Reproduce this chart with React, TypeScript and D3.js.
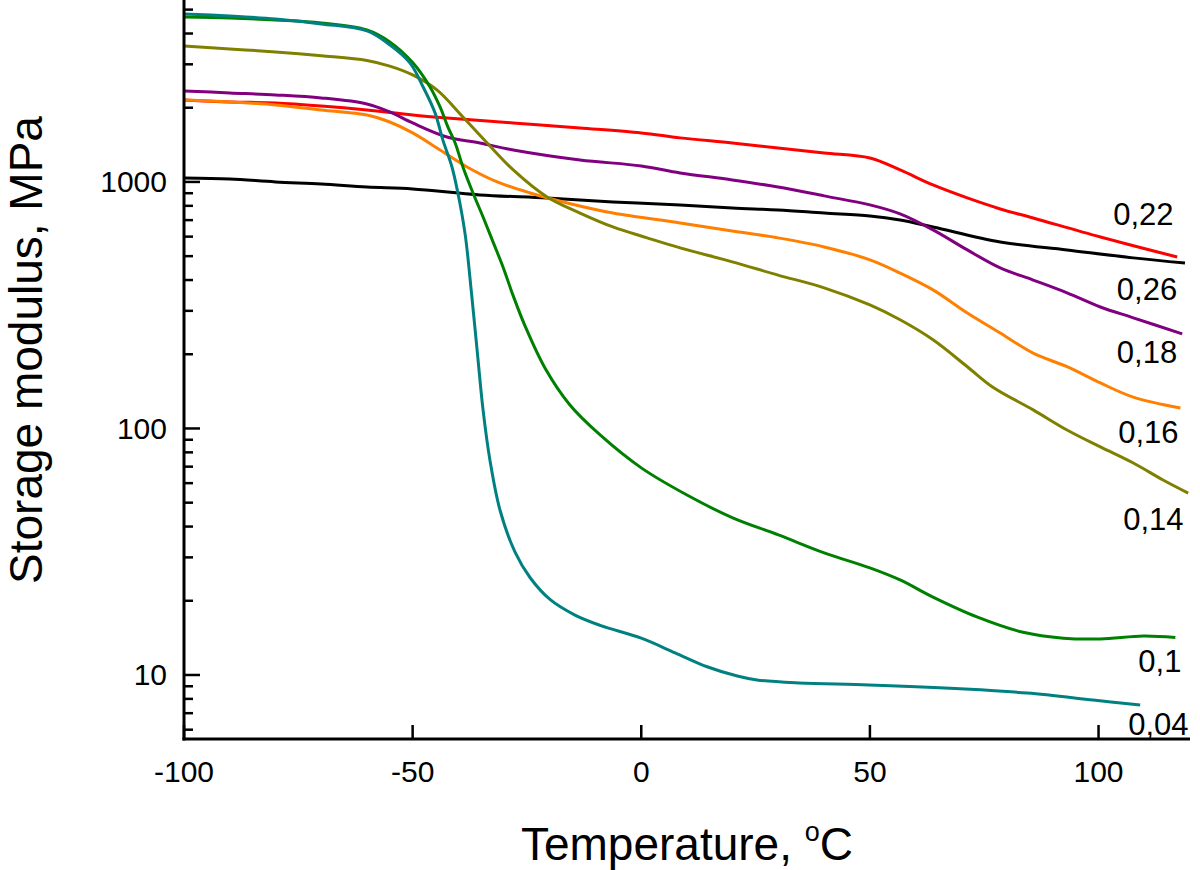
import React, { useEffect, useRef } from 'react';
import * as d3 from 'd3';

// Temperature (°C) and storage modulus (MPa)
const tempRed = [-100, -90, -80, -70, -60, -50, -42.5, -28, -13.4, 0, 8.5, 19.9, 29.9, 40, 50, 56.6, 63.8, 71.3, 78.5, 85.7, 100.4, 117.2];
const modRed = [2151, 2111, 2092, 2034, 1959, 1870, 1818, 1735, 1656, 1581, 1509, 1439, 1374, 1311, 1251, 1119, 972, 861, 777, 714, 598, 496];

const tempBlack = [-100, -90, -80, -70, -60, -50, -35.3, -20.6, -6.2, 8.5, 19.9, 29.9, 40, 50, 56.6, 63.8, 78.5, 93.1, 107.6, 118.9];
const modBlack = [1038, 1028, 1000, 981, 954, 937, 886, 861, 830, 807, 784, 770, 748, 728, 701, 657, 571, 530, 492, 469];

const tempPurple = [-100, -90, -80, -70, -60, -55, -50, -42.5, -35.3, -28, -13.4, 0, 8.5, 19.9, 29.9, 40, 50, 56.6, 63.8, 71.3, 78.5, 85.7, 93.1, 100.4, 107.6, 118.3];
const modPurple = [2340, 2296, 2254, 2192, 2072, 1923, 1735, 1522, 1439, 1348, 1228, 1161, 1088, 1019, 954, 878, 807, 742, 639, 530, 448, 400, 355, 311, 281, 242];

const tempOrange = [-100, -90, -80, -70, -60, -55, -50, -44, -38.1, -31.5, -24.3, -16.2, -6.2, 8.5, 19.9, 29.9, 40, 50, 56.6, 63.8, 71.3, 78.5, 85.7, 93.1, 100.4, 107.6, 117.9];
const modOrange = [2151, 2111, 2053, 1959, 1870, 1750, 1581, 1348, 1150, 1000, 902, 822, 748, 682, 633, 593, 545, 483, 427, 365, 294, 244, 202, 178, 153, 134, 121];

const tempOlive = [-100, -90, -80, -70, -60, -55, -50, -44.7, -39, -33.7, -28, -20.6, -13.4, -6.2, 1.3, 8.5, 19.9, 29.9, 40, 50, 56.6, 63.8, 71.3, 76.9, 85.7, 93.1, 100.4, 107.6, 114.1, 119.6];
const modOlive = [3562, 3464, 3368, 3250, 3110, 2950, 2717, 2362, 1835, 1439, 1119, 869, 748, 657, 593, 540, 474, 419, 372, 317, 276, 229, 178, 147, 119, 98.6, 84.2, 72.4, 61.8, 54.7];

const tempGreen = [-100, -90, -80, -70, -60, -55, -50, -46.2, -44, -42.3, -40.7, -39, -36.8, -34.6, -32.4, -30.2, -28, -25.4, -21, -15.6, -9, 0, 10, 20, 30, 40, 50, 56.6, 63.8, 73.4, 83.5, 92.3, 100.4, 109.8, 116.8];
const modGreen = [4669, 4627, 4540, 4416, 4137, 3700, 3050, 2429, 2015, 1672, 1439, 1150, 902, 721, 570, 450, 345, 260, 175, 124.5, 94.1, 69.2, 53.7, 43.4, 37.0, 31.3, 27.2, 24.3, 20.7, 17.2, 14.9, 14.1, 14.0, 14.4, 14.2];

const tempTeal = [-100, -90, -80, -70, -60, -55, -50.6, -47.7, -45.1, -43.4, -41.4, -40.1, -38.5, -37.2, -35.9, -34.6, -33.1, -30.9, -27.6, -24.3, -19.9, -14.5, -9, 0, 7.4, 14.4, 21, 25.3, 34.5, 49.8, 70.8, 84.4, 98.8, 109.1];
const modTeal = [4803, 4710, 4583, 4375, 4099, 3600, 3040, 2427, 1906, 1481, 1150, 902, 610, 365, 208, 119, 74.5, 46.7, 31.5, 24.8, 20.2, 17.5, 15.9, 14.1, 12.3, 10.8, 9.9, 9.54, 9.28, 9.11, 8.77, 8.45, 7.92, 7.55];

const seriesLabels = ['0,22', '0,26', '0,18', '0,16', '0,14', '0,1', '0,04'];
const seriesColors = ['#ff0000', '#000000', '#800080', '#ff8000', '#808000', '#008000', '#008080'];
const seriesTemps = [tempRed, tempBlack, tempPurple, tempOrange, tempOlive, tempGreen, tempTeal];
const seriesMods = [modRed, modBlack, modPurple, modOrange, modOlive, modGreen, modTeal];

// where each curve label sits (temperature, modulus of text baseline)
const labelTemps = [103.2, 104, 104, 104.3, 105.4, 108.7, 106.5];
const labelMods = [669, 332, 184, 87.3, 38.7, 10.3, 5.71];

const xTicks = [-100, -50, 0, 50, 100];
const yMajorTicks = [10, 100, 1000];

export default function App() {
  const svgRef = useRef<SVGSVGElement>(null);
  const width = 1200;
  const height = 870;

  useEffect(() => {
    if (!svgRef.current) return;
    const svg = d3.select(svgRef.current);
    svg.selectAll('*').remove();

    const font = '"Liberation Sans", Arial, Helvetica, sans-serif';
    const left = 184, right = 1190, top = 0, bottom = 739;

    const x = d3.scaleLinear().domain([-100, 120]).range([left, right]);
    const y = d3.scaleLog().domain([5.5, 5470]).range([bottom, top]);

    const line = d3.line<[number, number]>()
      .x(d => x(d[0]))
      .y(d => y(d[1]))
      .curve(d3.curveCatmullRom.alpha(0.5));

    // curves
    seriesTemps.forEach((temps, i) => {
      const pts = temps.map((t, j) => [t, seriesMods[i][j]] as [number, number]);
      svg.append('path')
        .datum(pts)
        .attr('d', line)
        .attr('fill', 'none')
        .attr('stroke', seriesColors[i])
        .attr('stroke-width', 3)
        .attr('stroke-linejoin', 'round');
    });

    // axes lines
    svg.append('line')
      .attr('x1', left).attr('x2', left)
      .attr('y1', top).attr('y2', bottom + 1.5)
      .attr('stroke', '#000').attr('stroke-width', 3);
    svg.append('line')
      .attr('x1', left - 1.5).attr('x2', right)
      .attr('y1', bottom).attr('y2', bottom)
      .attr('stroke', '#000').attr('stroke-width', 3);

    // y ticks, inward
    const minorTicks: number[] = [];
    [1, 10, 100, 1000].forEach(dec => {
      for (let k = 2; k <= 9; k++) {
        const v = k * dec;
        if (v >= 5.5 && v <= 5470) minorTicks.push(v);
      }
    });
    svg.selectAll('.ymin')
      .data(minorTicks)
      .enter()
      .append('line')
      .attr('x1', left).attr('x2', left + 9)
      .attr('y1', d => y(d)).attr('y2', d => y(d))
      .attr('stroke', '#000').attr('stroke-width', 2.5);
    svg.selectAll('.ymaj')
      .data(yMajorTicks)
      .enter()
      .append('line')
      .attr('x1', left).attr('x2', left + 16)
      .attr('y1', d => y(d)).attr('y2', d => y(d))
      .attr('stroke', '#000').attr('stroke-width', 2.5);
    svg.selectAll('.ylab')
      .data(yMajorTicks)
      .enter()
      .append('text')
      .attr('x', left - 17)
      .attr('y', d => y(d) + 10.5)
      .attr('text-anchor', 'end')
      .attr('font-family', font)
      .attr('font-size', 30)
      .text(d => String(d));

    // x ticks, inward
    svg.selectAll('.xt')
      .data(xTicks)
      .enter()
      .append('line')
      .attr('x1', d => x(d)).attr('x2', d => x(d))
      .attr('y1', bottom).attr('y2', bottom - 14)
      .attr('stroke', '#000').attr('stroke-width', 2.5);
    svg.selectAll('.xlab')
      .data(xTicks)
      .enter()
      .append('text')
      .attr('x', d => x(d))
      .attr('y', 782)
      .attr('text-anchor', 'middle')
      .attr('font-family', font)
      .attr('font-size', 30)
      .text(d => String(d));

    // curve labels
    seriesLabels.forEach((lab, i) => {
      svg.append('text')
        .attr('x', x(labelTemps[i]))
        .attr('y', y(labelMods[i]))
        .attr('font-family', font)
        .attr('font-size', 31)
        .text(lab);
    });

    // axis titles
    svg.append('text')
      .attr('transform', 'translate(42,350) rotate(-90)')
      .attr('text-anchor', 'middle')
      .attr('font-family', font)
      .attr('font-size', 46)
      .text('Storage modulus, MPa');

    const xt = svg.append('text')
      .attr('x', 687)
      .attr('y', 860)
      .attr('text-anchor', 'middle')
      .attr('font-family', font)
      .attr('font-size', 46);
    xt.append('tspan').text('Temperature, ');
    xt.append('tspan').attr('font-size', 27).attr('dy', -19).text('o');
    xt.append('tspan').attr('dy', 19).text('C');
  }, []);

  return (
    <svg
      ref={svgRef}
      width={width}
      height={height}
      style={{ position: 'absolute', left: 0, top: 0, background: '#fff' }}
    />
  );
}
